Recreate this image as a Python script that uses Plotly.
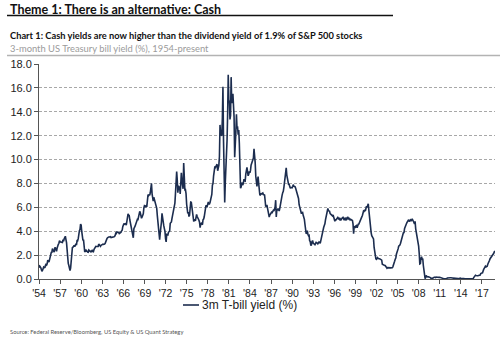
import pandas as pd
import plotly.graph_objects as go

# 3-month US Treasury bill yield (%), monthly, Jan 1954 - Nov 2018
tbill_1950s = [
    1.18, 0.97, 1.03, 0.96, 0.76, 0.64, 0.72, 0.92, 1.01, 0.98, 0.93, 1.14,
    1.23, 1.17, 1.28, 1.59, 1.45, 1.41, 1.60, 1.90, 2.07, 2.23, 2.24, 2.54,
    2.41, 2.32, 2.25, 2.60, 2.61, 2.49, 2.31, 2.60, 2.84, 2.90, 2.99, 3.21,
    3.11, 3.10, 3.08, 3.06, 3.06, 3.29, 3.16, 3.37, 3.53, 3.58, 3.29, 3.04,
    2.44, 1.53, 1.30, 1.13, 0.81, 0.70, 0.91, 1.69, 2.44, 2.63, 2.67, 2.77,
    2.82, 2.70, 2.80, 2.95, 2.84, 3.21, 3.20, 3.38, 4.04, 4.05, 4.15, 4.60,
]
tbill_1960s = [
    4.50, 3.96, 3.31, 3.23, 3.29, 2.46, 2.30, 2.30, 2.48, 2.30, 2.37, 2.25,
    2.24, 2.42, 2.39, 2.29, 2.29, 2.33, 2.24, 2.39, 2.28, 2.30, 2.48, 2.60,
    2.72, 2.73, 2.72, 2.73, 2.68, 2.73, 2.92, 2.82, 2.78, 2.74, 2.83, 2.87,
    2.91, 2.92, 2.89, 2.90, 2.92, 2.99, 3.18, 3.32, 3.38, 3.45, 3.52, 3.52,
    3.52, 3.53, 3.54, 3.47, 3.48, 3.48, 3.46, 3.50, 3.53, 3.57, 3.64, 3.84,
    3.81, 3.93, 3.93, 3.93, 3.89, 3.80, 3.84, 3.84, 3.92, 4.03, 4.09, 4.38,
    4.59, 4.65, 4.59, 4.62, 4.64, 4.50, 4.80, 4.96, 5.45, 5.35, 5.32, 4.96,
    4.72, 4.56, 4.26, 3.84, 3.60, 3.45, 4.21, 4.27, 4.42, 4.56, 4.73, 4.97,
    5.00, 4.98, 5.17, 5.38, 5.66, 5.52, 5.31, 5.09, 5.19, 5.35, 5.45, 5.96,
    6.14, 6.12, 6.02, 6.11, 6.04, 6.44, 7.00, 6.98, 7.09, 7.00, 7.24, 7.82,
]
tbill_1970s = [
    8.00, 7.13, 6.63, 6.51, 6.84, 6.68, 6.45, 6.41, 6.12, 5.91, 5.28, 4.87,
    4.44, 3.70, 3.30, 3.86, 4.14, 4.75, 5.50, 4.94, 4.69, 4.46, 4.22, 4.01,
    3.38, 3.10, 3.73, 3.71, 3.69, 3.91, 3.98, 4.02, 4.66, 4.74, 4.78, 5.07,
    5.41, 5.60, 6.09, 6.26, 6.36, 7.19, 8.01, 9.00, 8.29, 7.22, 7.83, 7.45,
    7.77, 7.12, 7.96, 8.90, 8.23, 7.90, 7.55, 9.70, 8.06, 7.46, 7.47, 7.15,
    6.26, 5.50, 5.49, 5.61, 5.23, 5.34, 6.13, 6.44, 6.42, 5.96, 5.48, 5.44,
    4.87, 4.88, 5.00, 4.86, 5.20, 5.41, 5.23, 5.14, 5.08, 4.92, 4.75, 4.30,
    4.62, 4.67, 4.60, 4.54, 4.96, 5.02, 5.19, 5.49, 5.81, 6.16, 6.10, 6.07,
    6.44, 6.45, 6.29, 6.29, 6.41, 6.73, 7.01, 7.08, 7.85, 7.99, 8.64, 9.08,
    9.35, 9.32, 9.48, 9.46, 9.61, 9.06, 9.24, 9.52, 10.26, 12.90, 12.10, 12.04,
]
tbill_1980s = [
    12.00, 13.50, 16.10, 11.50, 8.58, 6.40, 8.06, 9.13, 10.27, 11.62, 13.90, 17.10,
    15.02, 14.79, 13.36, 13.69, 16.90, 14.73, 14.95, 15.51, 14.70, 13.54, 10.20, 10.85,
    12.28, 13.80, 12.68, 12.70, 12.09, 12.47, 11.35, 8.20, 7.60, 7.71, 8.07, 7.94,
    7.86, 8.11, 8.35, 8.21, 8.19, 8.79, 9.08, 9.34, 9.00, 8.64, 8.76, 9.00,
    8.90, 9.09, 9.52, 9.69, 9.83, 9.87, 10.12, 10.90, 10.37, 9.74, 8.61, 8.06,
    7.76, 8.22, 8.57, 8.00, 7.56, 7.01, 7.05, 7.18, 7.08, 7.17, 7.20, 7.07,
    7.04, 7.03, 6.59, 6.06, 6.12, 6.21, 5.84, 5.57, 5.19, 5.18, 5.35, 5.49,
    5.45, 5.59, 5.56, 5.76, 5.75, 5.69, 5.78, 6.00, 6.60, 5.20, 5.81, 5.80,
    5.90, 5.69, 5.69, 5.92, 6.27, 6.50, 6.73, 7.02, 7.23, 7.34, 7.68, 8.09,
    8.29, 8.48, 9.30, 8.70, 8.40, 8.22, 7.92, 7.91, 7.72, 7.59, 7.67, 7.64,
]
tbill_1990s = [
    7.64, 7.74, 7.90, 7.77, 7.74, 7.73, 7.62, 7.45, 7.36, 7.17, 7.06, 6.74,
    6.22, 5.94, 5.91, 5.65, 5.46, 5.57, 5.58, 5.33, 5.22, 4.99, 4.56, 4.07,
    3.80, 3.84, 4.04, 3.75, 3.63, 3.66, 3.21, 3.13, 2.80, 2.86, 3.13, 3.22,
    3.00, 2.93, 2.95, 2.87, 2.96, 3.07, 3.04, 3.02, 2.95, 3.02, 3.10, 3.06,
    2.98, 3.25, 3.50, 3.68, 4.14, 4.14, 4.33, 4.48, 4.62, 4.95, 5.29, 5.60,
    5.71, 5.90, 5.73, 5.65, 5.67, 5.47, 5.42, 5.40, 5.28, 5.28, 5.36, 5.14,
    5.00, 4.83, 4.96, 4.95, 5.02, 5.09, 5.15, 5.05, 5.09, 4.99, 5.03, 4.91,
    5.03, 5.01, 5.14, 5.16, 5.05, 4.93, 5.05, 5.14, 4.95, 4.97, 5.14, 5.16,
    5.04, 5.09, 5.03, 4.95, 5.00, 4.98, 4.96, 4.90, 4.61, 3.80, 4.41, 4.39,
    4.34, 4.45, 4.48, 4.28, 4.51, 4.59, 4.60, 4.76, 4.73, 4.88, 5.07, 5.20,
]
tbill_2000s = [
    5.32, 5.55, 5.69, 5.66, 5.79, 5.69, 5.96, 6.09, 6.00, 6.11, 6.30, 5.77,
    5.15, 4.88, 4.42, 3.87, 3.62, 3.49, 3.51, 3.36, 2.64, 2.16, 1.87, 1.69,
    1.65, 1.73, 1.79, 1.72, 1.73, 1.70, 1.68, 1.62, 1.63, 1.58, 1.23, 1.19,
    1.17, 1.17, 1.13, 1.13, 1.07, 0.92, 0.90, 0.95, 0.94, 0.92, 0.93, 0.90,
    0.88, 0.93, 0.94, 0.94, 1.02, 1.27, 1.33, 1.48, 1.65, 1.76, 2.07, 2.19,
    2.33, 2.54, 2.74, 2.78, 2.84, 2.97, 3.22, 3.44, 3.42, 3.71, 3.88, 3.89,
    4.24, 4.43, 4.51, 4.60, 4.72, 4.79, 4.95, 4.96, 4.81, 4.92, 4.94, 4.85,
    4.98, 5.03, 4.94, 4.87, 4.73, 4.61, 4.82, 4.20, 3.89, 3.90, 3.27, 3.00,
    2.75, 2.12, 1.26, 1.29, 1.73, 1.86, 1.63, 1.72, 1.13, 0.67, 0.19, 0.03,
    0.13, 0.30, 0.21, 0.16, 0.18, 0.18, 0.18, 0.17, 0.12, 0.07, 0.05, 0.05,
]
tbill_2010s = [
    0.06, 0.11, 0.15, 0.16, 0.16, 0.12, 0.16, 0.16, 0.15, 0.13, 0.14, 0.14,
    0.15, 0.13, 0.10, 0.06, 0.04, 0.04, 0.04, 0.02, 0.01, 0.02, 0.01, 0.01,
    0.03, 0.09, 0.08, 0.08, 0.09, 0.09, 0.10, 0.10, 0.11, 0.10, 0.09, 0.07,
    0.07, 0.10, 0.09, 0.06, 0.04, 0.05, 0.04, 0.04, 0.02, 0.05, 0.07, 0.07,
    0.04, 0.05, 0.05, 0.03, 0.03, 0.04, 0.03, 0.03, 0.02, 0.02, 0.02, 0.03,
    0.03, 0.02, 0.03, 0.02, 0.02, 0.02, 0.03, 0.07, 0.02, 0.02, 0.12, 0.23,
    0.26, 0.31, 0.29, 0.23, 0.27, 0.27, 0.30, 0.30, 0.29, 0.33, 0.45, 0.51,
    0.51, 0.52, 0.74, 0.80, 0.89, 0.98, 1.07, 1.01, 1.03, 1.07, 1.24, 1.32,
    1.41, 1.57, 1.70, 1.76, 1.86, 1.90, 1.96, 2.03, 2.13, 2.25, 2.36,
]

tick_years = list(range(1954, 2018, 3))
tick_labels = ["'" + str(y)[2:] for y in tick_years]

yields = (tbill_1950s + tbill_1960s + tbill_1970s + tbill_1980s
          + tbill_1990s + tbill_2000s + tbill_2010s)
dates = pd.date_range("1954-01-01", periods=len(yields), freq="MS")

W, H = 500, 339
L, R, T, B = 39, 5, 64, 60
PW, PH = W - L - R, H - T - B


def px(x):
    return (x - L) / PW


def py(y):
    return (H - B - y) / PH


NAVY = "#1c2d4f"
fig = go.Figure()
fig.add_trace(go.Scatter(
    x=dates, y=yields, mode="lines", name="3m T-bill yield (%)",
    line=dict(color=NAVY, width=1.6), showlegend=False,
))

fig.update_layout(
    width=W, height=H,
    margin=dict(l=L, r=R, t=T, b=B),
    paper_bgcolor="white", plot_bgcolor="white",
    font=dict(family="Liberation Sans, Arial", size=11, color="#222"),
    xaxis=dict(
        range=[dates[0], dates[-1] + pd.Timedelta(days=10)],
        tickvals=[pd.Timestamp(f"{y}-01-01") for y in tick_years],
        ticktext=tick_labels, tickangle=0,
        ticks="outside", ticklen=4, tickcolor="#555",
        showline=True, linecolor="#555", linewidth=1,
        showgrid=False, zeroline=False,
        tickfont=dict(size=10.5, color="#222"),
    ),
    yaxis=dict(
        range=[0, 18], dtick=2, tickformat=".1f",
        ticks="outside", ticklen=4, tickcolor="#555",
        showline=True, linecolor="#555", linewidth=1,
        showgrid=True, gridcolor="#a8a8a8", gridwidth=1, griddash="3px,2px",
        zeroline=False, tickfont=dict(size=11, color="#222"),
    ),
)

ann = [
    dict(text="<b>Theme 1: There is an alternative: Cash</b>", x=px(8), y=py(9),
         font=dict(family="Lato", size=12.5, color="#111")),
    dict(text="<b>Chart 1: Cash yields are now higher than the dividend yield of 1.9% of S&P 500 stocks</b>",
         x=px(8), y=py(35), font=dict(family="Lato", size=9.3, color="#111")),
    dict(text="3-month US Treasury bill yield (%), 1954-present", x=px(8), y=py(48),
         font=dict(family="Lato", size=9.4, color="#9b9b9b")),
    dict(text="3m T-bill yield (%)", x=px(200), y=py(305),
         font=dict(family="Liberation Sans, Arial", size=12, color="#222")),
    dict(text="Source: Federal Reserve/Bloomberg, US Equity & US Quant Strategy", x=px(8), y=py(331),
         font=dict(family="Lato", size=5.8, color="#555")),
]
for a in ann:
    fig.add_annotation(xref="paper", yref="paper", xanchor="left", yanchor="middle",
                       showarrow=False, **a)

shapes = [
    dict(x0=px(7), x1=px(393), y0=py(15.5), y1=py(15.5), line=dict(color="#111", width=1.5)),
    dict(x0=px(7), x1=px(500), y0=py(55.5), y1=py(55.5), line=dict(color="#b3b3b3", width=1.5)),
    dict(x0=px(183), x1=px(199), y0=py(305), y1=py(305), line=dict(color=NAVY, width=1.6)),
]
for s in shapes:
    fig.add_shape(type="line", xref="paper", yref="paper", **s)

fig.write_html("out.html")
